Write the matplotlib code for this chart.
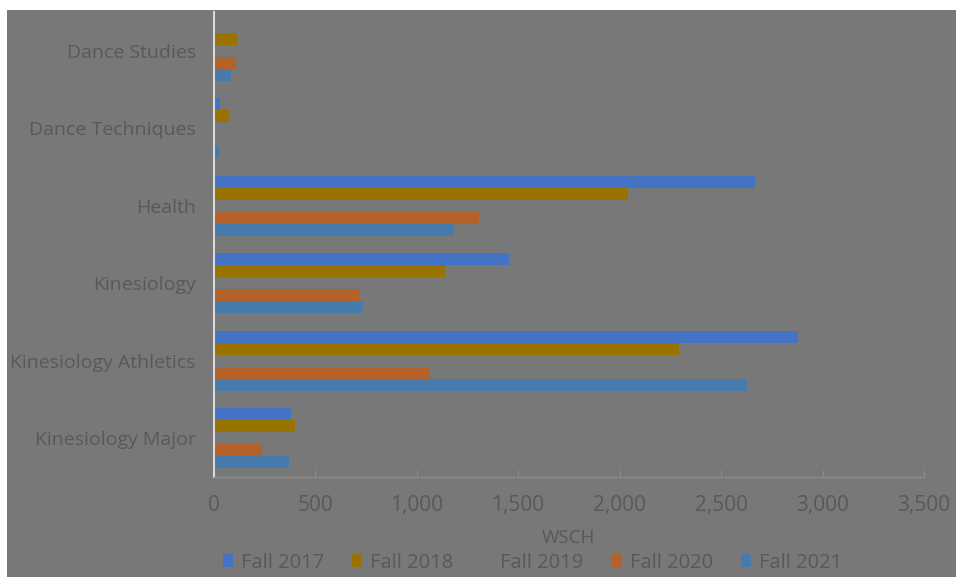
import numpy as np
import matplotlib
matplotlib.use("Agg")
import matplotlib.pyplot as plt
from matplotlib.patches import Rectangle, Patch

plt.rcParams['font.family'] = ['Open Sans', 'DejaVu Sans']

# bottom to top
categories = ["Kinesiology Major", "Kinesiology Athletics", "Kinesiology",
              "Health", "Dance Techniques", "Dance Studies"]
series = ["Fall 2017", "Fall 2018", "Fall 2019", "Fall 2020", "Fall 2021"]
fall2017 = [380, 2880, 1454, 2666, 31, 0]
fall2018 = [400, 2295, 1139, 2042, 74, 115]
fall2019 = [0, 0, 0, 0, 0, 0]
fall2020 = [239, 1060, 717, 1305, 0, 110]
fall2021 = [371, 2628, 737, 1186, 25, 87]
xticks = [0, 500, 1000, 1500, 2000, 2500, 3000, 3500]

BG = "#787878"
TXT = "#595959"
colors = ["#4472c4", "#997300", BG, "#b5622a", "#477bab"]
values = [fall2017, fall2018, fall2019, fall2020, fall2021]

fig = plt.figure(figsize=(9.56, 5.77), dpi=100)
fig.patch.set_facecolor("white")
bg = Rectangle((7 / 956, 0), 1 - 7 / 956, 567 / 577,
               transform=fig.transFigure, facecolor=BG,
               edgecolor="none", zorder=-10)
fig.add_artist(bg)

ax = fig.add_axes([213.7 / 956, 100 / 577, 710.3 / 956, 465 / 577])
ax.set_zorder(1)
ax.patch.set_alpha(0)

h = 0.155
y = np.arange(len(categories))
offsets = [2 * h, h, 0, -h, -2 * h]
for vals, col, off, name in zip(values, colors, offsets, series):
    ax.barh(y + off, vals, height=h, color=col, label=name, zorder=2)

ax.set_xlim(0, 3500)
ax.set_ylim(-0.5, len(categories) - 0.5)
ax.set_yticks(y)
ax.set_yticklabels(categories, fontsize=14, color=TXT)
ax.set_xticks(xticks)
ax.set_xticklabels([f"{v:,}" for v in xticks], fontsize=15, color=TXT)
ax.tick_params(axis="y", length=0, pad=13)
ax.tick_params(axis="x", direction="in", length=5, color="#8c8c8c", pad=13)

for s in ["top", "right"]:
    ax.spines[s].set_visible(False)
ax.spines["left"].set_color("#d9d9d9")
ax.spines["left"].set_linewidth(1.5)
ax.spines["bottom"].set_color("#8c8c8c")
ax.spines["bottom"].set_linewidth(1)

ax.set_xlabel("WSCH", fontsize=13.5, color=TXT, labelpad=9)

handles = [Patch(facecolor=c, edgecolor="none") for c in colors]
leg = fig.legend(handles, series, loc="center", bbox_to_anchor=(0.557, 0.025),
                 ncol=5, frameon=False, fontsize=14.5, labelcolor=TXT,
                 handlelength=0.5, handleheight=0.6, handletextpad=0.4,
                 columnspacing=1.4, borderaxespad=0)
leg.set_zorder(2)

fig.savefig("out.png", dpi=100)
